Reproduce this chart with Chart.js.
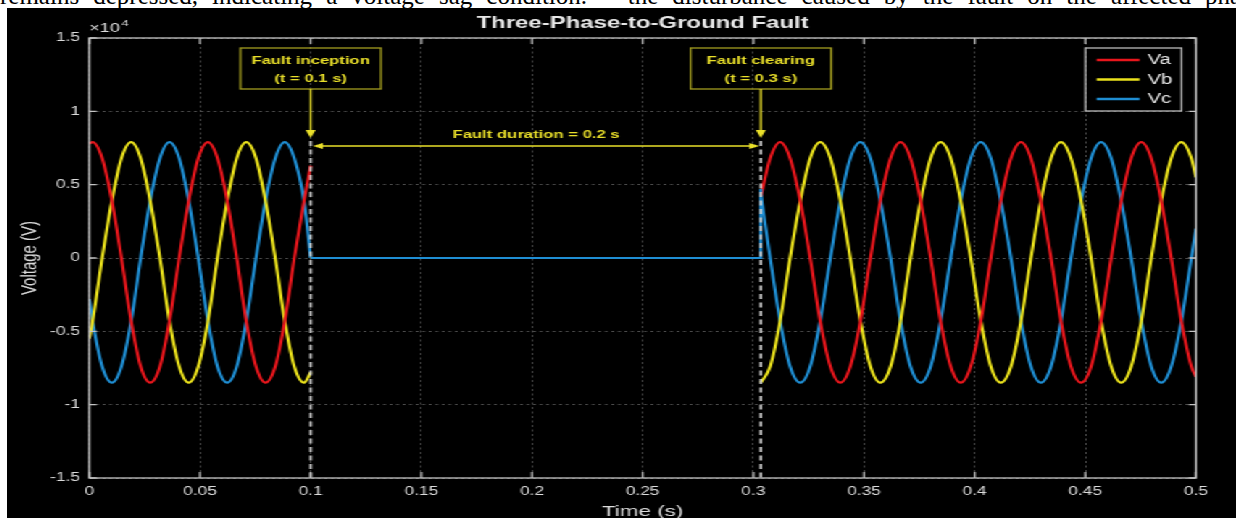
<!DOCTYPE html>
<html>
<head>
<meta charset="utf-8">
<script src="https://cdn.jsdelivr.net/npm/chart.js@4.4.0/dist/chart.umd.min.js"></script>
<style>
  html, body { margin: 0; padding: 0; background: #fff; }
  body { width: 1236px; height: 518px; overflow: hidden; position: relative; }
  #caption { position: absolute; left: 0; top: 0; width: 1236px; height: 8px; overflow: hidden; }
  #caption p {
    margin: 0; position: absolute; left: 0; top: -18px; width: 1262px;
    font: 25px/28px "Liberation Serif", "DejaVu Serif", serif; color: #000;
    text-align: justify; text-align-last: justify;
  }
  /* the source figure is stretched sideways, so the chart is drawn narrow and widened */
  #wrap {
    position: absolute; left: 7px; top: 8px; width: 848px; height: 510px;
    background: #000; transform: scaleX(1.4493); transform-origin: 0 0;
  }
</style>
</head>
<body>
<div id="caption"><p>remains depressed, indicating a voltage sag condition. – the disturbance caused by the fault on the affected phase</p></div>
<div id="wrap"><canvas id="chart" width="848" height="510"></canvas></div>
<script>
// voltages are in units of 1e4 V, times in s
const phaseNames = ['Va', 'Vb', 'Vc'];

// before the fault
const tPre = [0, 0.0015, 0.0058, 0.0102, 0.0145, 0.0189, 0.0232, 0.0275, 0.0319, 0.0362,
  0.0406, 0.0449, 0.0492, 0.0536, 0.0579, 0.0623, 0.0666, 0.0709, 0.0753, 0.0796,
  0.0840, 0.0883, 0.0926, 0.0970, 0.1];
const vaPre = [0.78, 0.79, 0.68, 0.39, 0, -0.43, -0.74, -0.85, -0.74, -0.43, 0, 0.39, 0.68,
  0.79, 0.68, 0.39, 0, -0.43, -0.74, -0.85, -0.74, -0.43, 0, 0.39, 0.63];
const vbPre = [-0.55, -0.43, 0, 0.39, 0.68, 0.79, 0.68, 0.39, 0, -0.43, -0.74, -0.85, -0.74,
  -0.43, 0, 0.39, 0.68, 0.79, 0.68, 0.39, 0, -0.43, -0.74, -0.85, -0.78];
const vcPre = [-0.28, -0.43, -0.74, -0.85, -0.74, -0.43, 0, 0.39, 0.68, 0.79, 0.68, 0.39, 0,
  -0.43, -0.74, -0.85, -0.74, -0.43, 0, 0.39, 0.68, 0.79, 0.68, 0.39, 0];

// during the fault (inception, clearing)
const tFault = [0.1, 0.3034];
const faultLevel = [0, 0];
const vcClearSpike = 0.47;

// after clearing
const tPost = [0.3034, 0.3076, 0.3121, 0.3166, 0.3212, 0.3257, 0.3302, 0.3348, 0.3393, 0.3438,
  0.3484, 0.3529, 0.3574, 0.3620, 0.3665, 0.3710, 0.3756, 0.3801, 0.3846, 0.3892,
  0.3937, 0.3982, 0.4028, 0.4073, 0.4118, 0.4164, 0.4209, 0.4254, 0.4299, 0.4345,
  0.4390, 0.4435, 0.4481, 0.4526, 0.4571, 0.4617, 0.4662, 0.4707, 0.4753, 0.4798,
  0.4843, 0.4888, 0.4934, 0.4979, 0.5];
const vaPost = [0.42, 0.68,
  0.79, 0.68, 0.39, 0, -0.43, -0.74, -0.85, -0.74, -0.43, 0, 0.39, 0.68,
  0.79, 0.68, 0.39, 0, -0.43, -0.74, -0.85, -0.74, -0.43, 0, 0.39, 0.68,
  0.79, 0.68, 0.39, 0, -0.43, -0.74, -0.85, -0.74, -0.43, 0, 0.39, 0.68,
  0.79, 0.68, 0.39, 0, -0.43, -0.74, -0.81];
const vbPost = [-0.85, -0.74,
  -0.43, 0, 0.39, 0.68, 0.79, 0.68, 0.39, 0, -0.43, -0.74, -0.85, -0.74,
  -0.43, 0, 0.39, 0.68, 0.79, 0.68, 0.39, 0, -0.43, -0.74, -0.85, -0.74,
  -0.43, 0, 0.39, 0.68, 0.79, 0.68, 0.39, 0, -0.43, -0.74, -0.85, -0.74,
  -0.43, 0, 0.39, 0.68, 0.79, 0.68, 0.55];
const vcPost = [0.43, 0,
  -0.43, -0.74, -0.85, -0.74, -0.43, 0, 0.39, 0.68, 0.79, 0.68, 0.39, 0,
  -0.43, -0.74, -0.85, -0.74, -0.43, 0, 0.39, 0.68, 0.79, 0.68, 0.39, 0,
  -0.43, -0.74, -0.85, -0.74, -0.43, 0, 0.39, 0.68, 0.79, 0.68, 0.39, 0,
  -0.43, -0.74, -0.85, -0.74, -0.43, 0, 0.2];

const xTicks = [0, 0.05, 0.1, 0.15, 0.2, 0.25, 0.3, 0.35, 0.4, 0.45, 0.5];
const yTicks = [-1.5, -1, -0.5, 0, 0.5, 1, 1.5];

const eventLabels = [['Fault inception', '(t = 0.1 s)'], ['Fault clearing', '(t = 0.3 s)']];
const durationLabel = 'Fault duration = 0.2 s';

const phaseColors = ['#e8161c', '#ebe21c', '#1f8ed3'];
const yellow = '#e9df2a';
const textColor = '#dcdcdc';
Chart.defaults.font.family = '"Liberation Sans", Arial, sans-serif';

const pre = [vaPre, vbPre, vcPre];
const post = [vaPost, vbPost, vcPost];
const toXY = (ts, vs) => ts.map((t, i) => ({ x: t, y: vs[i] }));

const datasets = [];
// collapsed voltage while faulted; Vc is drawn on top and shows the clearing step
datasets.push({
    label: 'Vc fault',
    data: [
        { x: tFault[0], y: faultLevel[0] },
        { x: tFault[1], y: faultLevel[1] },
        { x: tFault[1], y: vcClearSpike },
    ],
    borderColor: phaseColors[2],
    tension: 0,
});
[1, 0].forEach(k => {
    datasets.push({
        label: phaseNames[k] + ' fault',
        data: toXY(tFault, faultLevel),
        borderColor: phaseColors[k],
        tension: 0,
    });
});
[0, 1, 2].forEach(k => {
    datasets.push({ label: phaseNames[k], data: toXY(tPre, pre[k]), borderColor: phaseColors[k], cubicInterpolationMode: 'monotone' });
    datasets.push({ label: phaseNames[k], data: toXY(tPost, post[k]), borderColor: phaseColors[k], cubicInterpolationMode: 'monotone' });
});

function arrowHead(ctx, tx, ty, dx, dy, len, half) {
    ctx.beginPath();
    ctx.moveTo(tx, ty);
    ctx.lineTo(tx - dx * len - dy * half, ty - dy * len + dx * half);
    ctx.lineTo(tx - dx * len + dy * half, ty - dy * len - dx * half);
    ctx.closePath();
    ctx.fill();
}

const faultPlot = {
    id: 'faultPlot',
    afterDatasetsDraw(chart) {
        const { ctx, chartArea: a, scales: { x, y } } = chart;
        ctx.save();

        // box and inward ticks
        ctx.strokeStyle = '#c4c4c4';
        ctx.lineWidth = 1.3;
        ctx.strokeRect(a.left, a.top, a.right - a.left, a.bottom - a.top);
        ctx.beginPath();
        xTicks.forEach(v => {
            const px = x.getPixelForValue(v);
            ctx.moveTo(px, a.bottom); ctx.lineTo(px, a.bottom - 6);
            ctx.moveTo(px, a.top); ctx.lineTo(px, a.top + 6);
        });
        yTicks.forEach(v => {
            const py = y.getPixelForValue(v);
            ctx.moveTo(a.left, py); ctx.lineTo(a.left + 5, py);
            ctx.moveTo(a.right, py); ctx.lineTo(a.right - 5, py);
        });
        ctx.stroke();

        // dashed event markers
        const tipY = a.top + 100;
        ctx.setLineDash([5, 3.5]);
        ctx.strokeStyle = '#d4d4d4';
        ctx.lineWidth = 1.7;
        tFault.forEach(t => {
            const px = x.getPixelForValue(t);
            ctx.beginPath();
            ctx.moveTo(px, tipY + 3);
            ctx.lineTo(px, a.bottom);
            ctx.stroke();
        });
        ctx.setLineDash([]);

        // label boxes + arrows
        const boxTop = a.top + 10, boxH = 41, boxW = 97;
        ctx.textAlign = 'center';
        ctx.textBaseline = 'middle';
        ctx.font = 'bold 11.5px "Liberation Sans", Arial, sans-serif';
        tFault.forEach((t, i) => {
            const px = x.getPixelForValue(t);
            ctx.strokeStyle = '#a19b1f';
            ctx.lineWidth = 1.3;
            ctx.strokeRect(px - boxW / 2, boxTop, boxW, boxH);
            ctx.fillStyle = yellow;
            ctx.fillText(eventLabels[i][0], px, boxTop + 12.5);
            ctx.fillText(eventLabels[i][1], px, boxTop + 31);
            ctx.strokeStyle = yellow;
            ctx.lineWidth = 1.4;
            ctx.beginPath();
            ctx.moveTo(px, boxTop + boxH);
            ctx.lineTo(px, tipY - 6);
            ctx.stroke();
            arrowHead(ctx, px, tipY, 0, 1, 8, 3.5);
        });

        // duration arrow
        const x0 = x.getPixelForValue(tFault[0]) + 1.5;
        const x1 = x.getPixelForValue(tFault[1]) - 1;
        const ay = a.top + 108;
        ctx.beginPath();
        ctx.moveTo(x0 + 5, ay);
        ctx.lineTo(x1 - 5, ay);
        ctx.stroke();
        arrowHead(ctx, x0, ay, -1, 0, 7, 3);
        arrowHead(ctx, x1, ay, 1, 0, 7, 3);
        ctx.fillText(durationLabel, (x0 + x1) / 2, a.top + 97);

        // legend
        const lw = 66.3, lh = 63;
        const lx = a.right - 10 - lw, ly = a.top + 10;
        ctx.strokeStyle = '#b8b8b8';
        ctx.lineWidth = 1.3;
        ctx.strokeRect(lx, ly, lw, lh);
        ctx.textAlign = 'left';
        ctx.font = '14px "Liberation Sans", Arial, sans-serif';
        phaseNames.forEach((name, i) => {
            const ry = ly + 12 + i * 19.5;
            ctx.strokeStyle = phaseColors[i];
            ctx.lineWidth = 2.5;
            ctx.beginPath();
            ctx.moveTo(lx + 7.7, ry);
            ctx.lineTo(lx + 37.4, ry);
            ctx.stroke();
            ctx.fillStyle = '#e6e6e6';
            ctx.fillText(name, lx + 42.9, ry + 0.5);
        });

        // title and exponent
        ctx.textAlign = 'center';
        ctx.textBaseline = 'alphabetic';
        ctx.fillStyle = '#e8e8e8';
        ctx.font = 'bold 16.5px "Liberation Sans", Arial, sans-serif';
        ctx.fillText('Three-Phase-to-Ground Fault', (a.left + a.right) / 2, 20.3);
        ctx.textAlign = 'left';
        ctx.fillStyle = textColor;
        ctx.font = '12.5px "Liberation Sans", Arial, sans-serif';
        ctx.fillText('\u00d710', a.left, 24);
        const w = ctx.measureText('\u00d710').width;
        ctx.font = '9px "Liberation Sans", Arial, sans-serif';
        ctx.fillText('4', a.left + w + 1, 17.5);
        ctx.restore();
    },
};

new Chart(document.getElementById('chart'), {
    type: 'line',
    data: { datasets },
    options: {
        responsive: false,
        animation: false,
        events: [],
        layout: { padding: { top: 30, right: 27.6, bottom: 0, left: 0 } },
        elements: { point: { radius: 0 }, line: { borderWidth: 2.2 } },
        plugins: { legend: { display: false }, title: { display: false }, tooltip: { enabled: false } },
        scales: {
            x: {
                type: 'linear', min: 0, max: 0.5,
                afterFit: s => { s.height = 40; },
                afterBuildTicks: s => { s.ticks = xTicks.map(v => ({ value: v })); },
                ticks: { color: textColor, font: { size: 12 }, padding: 6, maxRotation: 0, autoSkip: false,
                    callback: v => String(v) },
                grid: { color: '#4a4a4a', lineWidth: 1, drawTicks: false },
                border: { display: false, dash: [2, 2.5] },
                title: { display: true, text: 'Time (s)', color: textColor, font: { size: 15.5 }, padding: { top: 0, bottom: -3 } },
            },
            y: {
                min: -1.5, max: 1.5,
                afterFit: s => { s.width = 56.8; },
                afterBuildTicks: s => { s.ticks = yTicks.map(v => ({ value: v })); },
                ticks: { color: textColor, font: { size: 12 }, padding: 6.4, callback: v => String(v) },
                grid: { color: '#4a4a4a', lineWidth: 1, drawTicks: false },
                border: { display: false, dash: [2, 2.5] },
                title: { display: true, text: 'Voltage (V)', color: textColor, font: { size: 15 }, padding: { top: 7, bottom: 0 } },
            },
        },
    },
    plugins: [faultPlot],
});
</script>
</body>
</html>
